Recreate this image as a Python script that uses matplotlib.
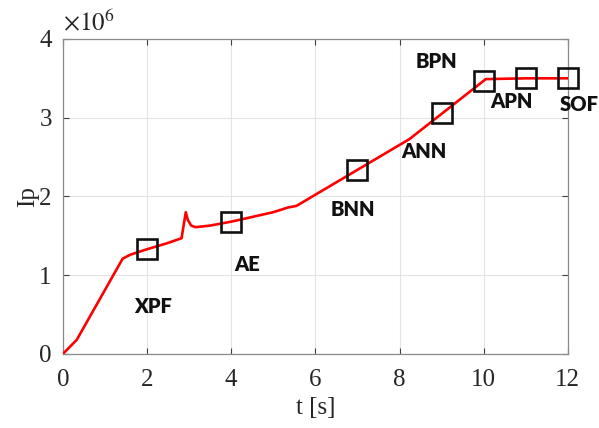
import matplotlib
matplotlib.use("Agg")
import matplotlib.pyplot as plt

plt.rcParams['mathtext.fontset'] = 'stix'

# Plasma current waveform (time in s, current in A)
t = [0.0, 0.33, 1.42, 1.6, 2.0, 2.5, 2.82, 2.92, 2.97, 3.05, 3.15, 3.5, 4.0,
     4.5, 5.0, 5.35, 5.55, 8.24, 10.05, 11.0, 12.0]
ip = [0.0, 0.18e6, 1.21e6, 1.26e6, 1.33e6, 1.41e6, 1.47e6, 1.80e6, 1.70e6,
      1.63e6, 1.61e6, 1.63e6, 1.68e6, 1.74e6, 1.80e6, 1.86e6, 1.88e6,
      2.73e6, 3.49e6, 3.50e6, 3.50e6]

# Operating points
pt_t = [2, 4, 7, 9, 10, 11, 12]
pt_ip = [1.33e6, 1.67e6, 2.33e6, 3.06e6, 3.47e6, 3.51e6, 3.51e6]

# Point labels and their baseline positions
lab_text = ['XPF', 'AE', 'BNN', 'ANN', 'BPN', 'APN', 'SOF']
lab_t = [2.14, 4.37, 6.89, 8.58, 8.88, 10.67, 12.26]
lab_ip = [0.522e6, 1.058e6, 1.752e6, 2.493e6, 3.636e6, 3.12e6, 3.09e6]

scale = 1e6

fig = plt.figure(figsize=(5.99, 4.28), dpi=100)
ax = fig.add_axes([0.105, 0.173, 0.843, 0.736])

ax.plot(t, [v / scale for v in ip], color='#ff0000', lw=1.9, zorder=3)
ax.plot(pt_t, [v / scale for v in pt_ip], linestyle='none', marker='s',
        markersize=14.5, markerfacecolor='none', markeredgecolor='#111111',
        markeredgewidth=1.9, zorder=4, clip_on=False)

for s, x, y in zip(lab_text, lab_t, lab_ip):
    ax.text(x, y / scale, s, family='Lato', fontweight='heavy', fontsize=14.5,
            color='#111111', ha='center', va='baseline', zorder=5, clip_on=False)

ax.set_xlim(0, 12)
ax.set_ylim(0, 4)
ax.set_xticks(range(0, 13, 2))
ax.set_yticks(range(0, 5))
ax.grid(True, color='#e3e3e3', lw=0.8)
ax.set_axisbelow(True)

for sp in ax.spines.values():
    sp.set_color('#8a8a8a')
    sp.set_linewidth(0.9)

ax.tick_params(direction='in', length=4, width=0.8, color='#404040',
               top=True, right=True, labelsize=18, labelcolor='#262626')
ax.tick_params(axis='x', pad=10.5)
ax.tick_params(axis='y', pad=8)
for lbl in ax.get_xticklabels() + ax.get_yticklabels():
    lbl.set_family('Liberation Serif')

ax.set_xlabel('t [s]', family='Liberation Serif', fontsize=18, color='#262626', labelpad=5)
ax.set_ylabel('Ip', family='Liberation Serif', fontsize=18, color='#262626', labelpad=0)

ax.text(0.0, 1.01, r'$\times10^{6}$', transform=ax.transAxes, fontsize=18,
        color='#262626', ha='left', va='bottom')

fig.savefig('out.png', dpi=100)
